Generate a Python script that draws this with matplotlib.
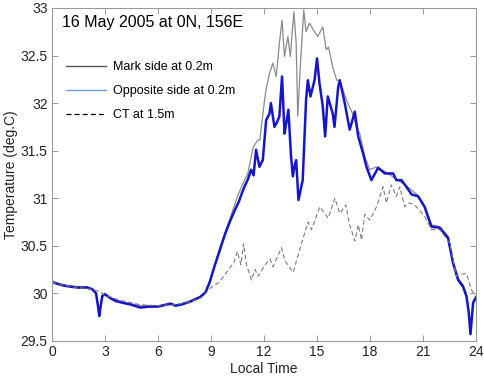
import matplotlib
matplotlib.use("Agg")
import matplotlib.pyplot as plt
from matplotlib.lines import Line2D
from matplotlib.ticker import FuncFormatter

plt.rcParams['font.family'] = ['Liberation Sans', 'DejaVu Sans']

title_text = "16 May 2005 at 0N, 156E"
series_labels = ["Mark side at 0.2m", "Opposite side at 0.2m", "CT at 1.5m"]
x_ticks = [0, 3, 6, 9, 12, 15, 18, 21, 24]
y_ticks = [29.5, 30, 30.5, 31, 31.5, 32, 32.5, 33]

opp_hours = [0.0, 0.3, 0.7, 1.0, 1.5, 2.0, 2.3, 2.5, 2.62, 2.68, 2.75, 2.85, 3.0, 3.3, 3.6,
             4.0, 4.5, 5.0, 5.5, 6.0, 6.5, 6.7, 7.0, 7.3, 7.8, 8.4, 8.7, 8.94, 9.2, 9.5,
             9.8, 10.07, 10.3, 10.6, 10.75, 10.9, 11.1, 11.28, 11.42, 11.56, 11.75, 11.94,
             12.13, 12.32, 12.4, 12.6, 12.75, 12.88, 13.03, 13.17, 13.28, 13.39, 13.54,
             13.64, 13.75, 13.83, 13.96, 14.2, 14.39, 14.49, 14.64, 14.87, 15.01, 15.15,
             15.34, 15.47, 15.62, 15.9, 16.0, 16.21, 16.3, 16.58, 16.86, 17.15, 17.34,
             17.62, 17.81, 18.09, 18.47, 18.85, 19.32, 19.5, 19.79, 20.07, 20.36, 20.73,
             21.1, 21.49, 21.96, 22.43, 22.71, 23.0, 23.28, 23.47, 23.6, 23.7, 23.78,
             23.85, 24.0]
opp_temp = [30.12, 30.10, 30.08, 30.07, 30.06, 30.06, 30.04, 30.00, 29.85, 29.76, 29.85,
            29.97, 29.99, 29.95, 29.92, 29.90, 29.88, 29.85, 29.86, 29.86, 29.88, 29.89,
            29.87, 29.88, 29.91, 29.96, 30.01, 30.12, 30.28, 30.45, 30.62, 30.75, 30.85,
            30.97, 31.05, 31.12, 31.20, 31.30, 31.24, 31.51, 31.33, 31.40, 31.82, 31.89,
            32.00, 31.75, 31.80, 31.86, 32.28, 31.68, 31.80, 31.93, 31.44, 31.23, 31.35,
            31.40, 30.98, 31.19, 32.03, 32.24, 32.07, 32.24, 32.47, 32.21, 31.96, 31.65,
            32.07, 31.89, 31.75, 32.17, 32.24, 32.00, 31.72, 31.91, 31.65, 31.47, 31.33,
            31.19, 31.32, 31.26, 31.26, 31.19, 31.19, 31.12, 31.04, 31.02, 30.91, 30.70,
            30.69, 30.58, 30.32, 30.14, 30.07, 29.97, 29.80, 29.57, 29.75, 29.90, 29.95]

mark_hours = [0.0, 0.3, 0.7, 1.0, 1.5, 2.0, 2.3, 2.5, 2.62, 2.68, 2.75, 2.85, 3.0, 3.3, 3.6,
              4.0, 4.5, 5.0, 5.5, 6.0, 6.5, 6.7, 7.0, 7.3, 7.8, 8.4, 8.7, 8.94, 9.5, 10.07,
              10.53, 10.83, 11.09, 11.4, 11.66, 11.77, 12.04, 12.15, 12.32, 12.51, 12.7,
              12.88, 13.03, 13.17, 13.36, 13.5, 13.7, 13.83, 13.92, 14.07, 14.26, 14.39,
              14.58, 14.87, 15.05, 15.34, 15.53, 15.66, 15.9, 16.13, 16.3, 16.68, 17.05,
              17.24, 17.43, 17.71, 18.0, 18.38, 18.94, 19.5, 20.07, 20.73, 21.1, 21.49,
              21.96, 22.43, 22.71, 23.0, 23.28, 23.47, 23.6, 23.7, 23.78, 23.85, 24.0]
mark_temp = [30.13, 30.11, 30.09, 30.08, 30.07, 30.07, 30.05, 30.01, 29.88, 29.80, 29.88,
             29.98, 30.00, 29.96, 29.93, 29.91, 29.89, 29.87, 29.87, 29.87, 29.89, 29.90,
             29.88, 29.89, 29.92, 29.97, 30.02, 30.13, 30.47, 30.78, 31.03, 31.16, 31.26,
             31.54, 31.61, 31.61, 32.03, 32.17, 32.31, 32.42, 32.28, 32.63, 32.87, 32.49,
             32.70, 32.49, 32.96, 32.63, 31.86, 32.40, 32.98, 32.75, 32.84, 32.75, 32.70,
             32.80, 32.56, 32.59, 32.38, 32.24, 32.24, 32.03, 31.88, 31.75, 31.68, 31.44,
             31.30, 31.33, 31.27, 31.20, 31.13, 31.03, 30.92, 30.72, 30.70, 30.60, 30.34,
             30.16, 30.09, 29.99, 29.82, 29.60, 29.77, 29.92, 29.97]

ct_hours = [0.0, 1.0, 2.0, 2.7, 3.0, 4.0, 5.0, 6.0, 7.0, 8.0, 8.5, 9.0, 9.5, 10.0, 10.3,
            10.5, 10.7, 10.85, 11.02, 11.3, 11.5, 11.68, 12.0, 12.34, 12.52, 13.0, 13.2,
            13.66, 14.03, 14.5, 14.7, 15.17, 15.64, 16.02, 16.3, 16.64, 16.86, 17.15, 17.35,
            17.53, 17.71, 18.0, 18.38, 18.75, 18.94, 19.22, 19.5, 19.7, 19.98, 20.26, 20.54,
            21.1, 21.49, 21.96, 22.52, 22.9, 23.19, 23.47, 23.75, 23.94]
ct_temp = [30.12, 30.07, 30.05, 30.02, 29.98, 29.92, 29.88, 29.87, 29.88, 29.92, 29.96,
           30.06, 30.12, 30.25, 30.32, 30.44, 30.30, 30.52, 30.30, 30.14, 30.25, 30.18,
           30.28, 30.36, 30.28, 30.48, 30.34, 30.22, 30.46, 30.75, 30.67, 30.91, 30.79,
           31.00, 30.84, 30.93, 30.72, 30.55, 30.72, 30.56, 30.83, 30.77, 30.91, 31.12,
           30.95, 31.14, 31.02, 31.12, 30.91, 30.95, 30.93, 30.81, 30.67, 30.67, 30.53,
           30.18, 30.20, 30.21, 30.04, 29.97]

fig = plt.figure(figsize=(4.85, 3.8), dpi=100)
ax = fig.add_axes([0.107, 0.103, 0.874, 0.876])

ax.plot(mark_hours, mark_temp, color='#8a8a8a', lw=0.9)
ax.plot(opp_hours, opp_temp, color='#1616c8', lw=1.8)
ax.plot(ct_hours, ct_temp, color='#7a7a7a', lw=0.8, ls=(0, (4, 2.5)))

ax.set_xlim(0, 24)
ax.set_ylim(29.5, 33)
ax.set_xticks(x_ticks)
ax.set_yticks(y_ticks)
ax.yaxis.set_major_formatter(FuncFormatter(lambda v, p: f"{v:g}"))
ax.tick_params(direction='in', top=True, right=True, length=4, width=0.6,
               color='#888888', labelsize=10, labelcolor='#222222', pad=3)
for s in ax.spines.values():
    s.set_color('#999999')
    s.set_linewidth(0.8)

ax.set_xlabel("Local Time", fontsize=10, color='#222222', labelpad=2)
ax.set_ylabel("Temperature (deg.C)", fontsize=10, color='#222222', labelpad=2)

ax.text(0.023, 0.955, title_text, transform=ax.transAxes, fontsize=11.5,
        ha='left', va='center', color='black')

handles = [Line2D([], [], color='#555555', lw=1.0),
           Line2D([], [], color='#6fa0dc', lw=1.0),
           Line2D([], [], color='black', lw=0.9, ls=(0, (4, 2.5)))]
ax.legend(handles, series_labels, loc='upper left', bbox_to_anchor=(0.012, 0.866),
          frameon=False, fontsize=9, handlelength=3.2, handletextpad=0.6,
          labelspacing=0.95, borderaxespad=0.3)

fig.savefig("out.png", dpi=100)
